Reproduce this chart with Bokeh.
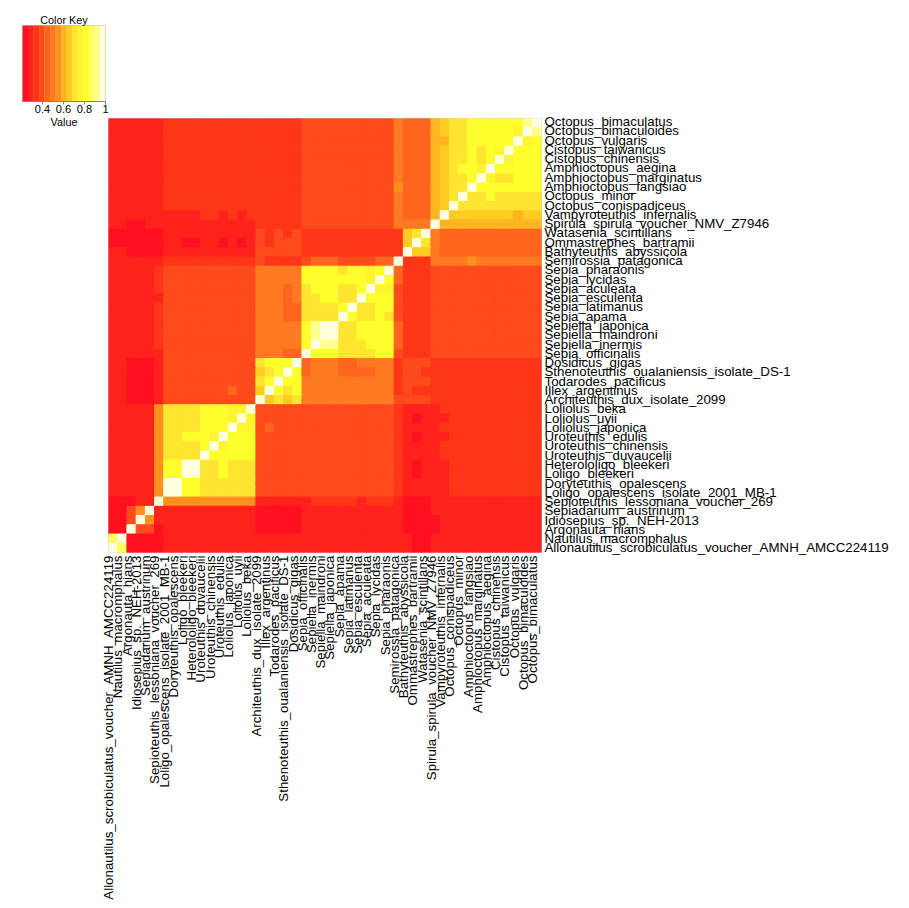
from bokeh.plotting import figure
from bokeh.layouts import column
from bokeh.models import ColumnDataSource, Range1d, LinearAxis, FixedTicker
from bokeh.embed import file_html
from bokeh.resources import INLINE
import numpy as np
import math

FONT = "Liberation Sans"

row_labels = [
    "Octopus_bimaculatus", "Octopus_bimaculoides", "Octopus_vulgaris", "Cistopus_taiwanicus",
    "Cistopus_chinensis", "Amphioctopus_aegina", "Amphioctopus_marginatus", "Amphioctopus_fangsiao",
    "Octopus_minor", "Octopus_conispadiceus", "Vampyroteuthis_infernalis",
    "Spirula_spirula_voucher_NMV_Z7946", "Watasenia_scintillans", "Ommastrephes_bartramii",
    "Bathyteuthis_abyssicola", "Semirossia_patagonica", "Sepia_pharaonis", "Sepia_lycidas",
    "Sepia_aculeata", "Sepia_esculenta", "Sepia_latimanus", "Sepia_apama", "Sepiella_japonica",
    "Sepiella_maindroni", "Sepiella_inermis", "Sepia_officinalis", "Dosidicus_gigas",
    "Sthenoteuthis_oualaniensis_isolate_DS-1", "Todarodes_pacificus", "Illex_argentinus",
    "Architeuthis_dux_isolate_2099", "Loliolus_beka", "Loliolus_uyii", "Loliolus_japonica",
    "Uroteuthis_edulis", "Uroteuthis_chinensis", "Uroteuthis_duvaucelii", "Heterololigo_bleekeri",
    "Loligo_bleekeri", "Doryteuthis_opalescens", "Loligo_opalescens_isolate_2001_MB-1",
    "Sepioteuthis_lessoniana_voucher_269", "Sepiadarium_austrinum", "Idiosepius_sp._NEH-2013",
    "Argonauta_hians", "Nautilus_macromphalus",
    "Allonautilus_scrobiculatus_voucher_AMNH_AMCC224119",
]
col_labels = row_labels[::-1]

# colour-key bands, one hex digit per band in the rows below
key_low = 0.21
key_high = 1.0
key_colors = ["#FF1020", "#FF221C", "#FF3518", "#FF4A1C", "#FF651E", "#FF7A20", "#FF9020", "#FFB420",
              "#FFCC20", "#FFE530", "#FFF52E", "#FFFF2C", "#FFFF60", "#FFFF90", "#FFFFE0"]
key_ticks = [0.4, 0.6, 0.8, 1]

# one string per row, from the left column up to the diagonal; the other half is its mirror
similarity = [
    "111111222222222222222333333333354447899bbbbbbde",
    "11111122222222222222233333333335444789" "9bbbbbae",
    "1111112222222222222223333333333544477" "99bbbbbe",
    "11111122222222222222233333333335444789" "9b9bae",
    "11111122222222222222233333333335444789" "9b9be",
    "111111222222222222222333333333354447" "89bbae",
    "11111122222222222222233333333335444789" "9be",
    "11111122222222222222233333333336444789" "9e",
    "111111222222222222222333333333354447" "89e",
    "111111222222222222222333333333354447" "8e",
    "111111" "1111" "22" "1" "2" "1" "2" "22222" "3333333333" "5" "444" "7" "e",
    "11" "00" "11" "1111111111" "22222" "3333333333" "5555" "e",
    "000000" "1111111111" "32323" "2222222222" "2" "8" "9" "e",
    "000000" "1100110101" "32333" "2222222222" "2" "8" "e",
    "110000" "1111111111" "33333" "2222222222" "2" "e",
    "111111" "2222222222" "32222" "3" "444" "3333" "44" "e",
    "111112" "3333333333" "55555" "bbbb" "9" "bb" "a" "b" "e",
    "111112" "3333333333" "55555" "bbbbbbb" "a" "e",
    "111112" "3333333333" "55545" "9" "bbb" "99" "b" "e",
    "111111" "3333333333" "55545" "99" "bb" "99" "e",
    "111112" "3333333333" "55544" "9999" "b" "e",
    "111112" "3333333333" "55544" "9999" "e",
    "111112" "3333333333" "55555" "b" "d" "e" "e",
    "111112" "3333333333" "55555" "b" "d" "e",
    "111112" "3333333333" "55555" "b" "e",
    "111111" "3333333333" "55544" "e",
    "110001" "3333333333" "9" "bbb" "e",
    "110001" "3333333333" "8" "9" "b" "e",
    "110001" "3333333333" "9" "b" "e",
    "110001" "3333333433" "8" "e",
    "110001" "3333333333" "e",
    "111116" "9999" "bbb" "aa" "e",
    "111116" "9999" "bbb" "a" "e",
    "111116" "9999" "bbb" "e",
    "111116" "99" "bbb" "a" "e",
    "111116" "9999" "b" "e",
    "111116" "9999" "e",
    "111116" "bb" "ee",
    "111116" "bb" "e",
    "111116" "ee",
    "111116" "e",
    "00011e",
    "0036e",
    "003e",
    "00e",
    "ce",
    "e",
]

n = len(row_labels)
xs, ys, colors = [], [], []
for r in range(n):
    for c in range(n):
        code = similarity[r][c] if r + c <= n - 1 else similarity[n - 1 - c][n - 1 - r]
        xs.append(c + 1)
        ys.append(n - r)
        colors.append(key_colors[int(code, 16)])

# ---------- colour key ----------
edges = np.linspace(key_low, key_high, len(key_colors) + 1)
key = figure(width=125, height=133, output_backend="svg", toolbar_location=None,
             x_range=(key_low, key_high), y_range=(0, 1), title="Color Key",
             min_border_left=22, min_border_right=20, min_border_top=25, min_border_bottom=32,
             frame_align=False)
key.frame_width = 83
key.frame_height = 76
key.quad(left=edges[:-1], right=edges[1:], bottom=0, top=1, fill_color=key_colors, line_color=key_colors, line_width=0.3)
key.title.align = "center"
key.title.text_font = FONT
key.title.text_font_size = "10.8px"
key.title.text_font_style = "normal"
key.title.text_color = "#000000"
key.title.standoff = 0
key.yaxis.visible = False
key.grid.visible = False
key.outline_line_color = "#c4bfae"
key.xaxis.ticker = key_ticks
key.xaxis.major_label_overrides = {0.4: "0.4", 0.6: "0.6", 0.8: "0.8", 1: "1"}
key.xaxis.minor_tick_line_color = None
key.xaxis.major_tick_in = 0
key.xaxis.major_tick_out = 3
key.xaxis.major_tick_line_color = "#808080"
key.xaxis.axis_line_color = "#808080"
key.xaxis.major_label_standoff = 0
key.xaxis.major_label_text_font = FONT
key.xaxis.major_label_text_font_size = "11px"
key.xaxis.major_label_text_color = "#000000"
key.xaxis.axis_label = "Value"
key.xaxis.axis_label_text_font = FONT
key.xaxis.axis_label_text_font_size = "10.8px"
key.xaxis.axis_label_text_font_style = "normal"
key.xaxis.axis_label_text_color = "#000000"
key.xaxis.axis_label_standoff = 0

# ---------- heat map ----------
src = ColumnDataSource(dict(x=xs, y=ys, color=colors))
p = figure(width=901, height=792, output_backend="svg", toolbar_location=None,
           x_range=Range1d(0.5, n + 0.5), y_range=Range1d(0.5, n + 0.5),
           x_axis_location=None, y_axis_location=None,
           min_border_left=108, min_border_right=360, min_border_top=10, min_border_bottom=348,
           margin=(-25, 0, 0, 0), frame_align=False)
p.frame_width = 433
p.frame_height = 434
p.border_fill_color = None
p.rect(x="x", y="y", width=1, height=1, source=src, fill_color="color", line_color="color", line_width=1)
p.grid.visible = False
p.outline_line_color = "#d0d0d0"

# the labels do not sit exactly on the cell centres, so each axis gets a range of its own
positions = list(range(1, n + 1))
p.extra_x_ranges["col_labels"] = Range1d(0.97, n + 0.97)
p.extra_y_ranges["row_labels"] = Range1d(0.502, n + 0.335)
bottom = LinearAxis(x_range_name="col_labels", ticker=FixedTicker(ticks=positions),
                    major_label_overrides=dict(zip(positions, col_labels)),
                    major_label_orientation=math.pi / 2)
right = LinearAxis(y_range_name="row_labels", ticker=FixedTicker(ticks=positions),
                   major_label_overrides=dict(zip(positions, row_labels[::-1])))
p.add_layout(bottom, "below")
p.add_layout(right, "right")

for ax in (bottom, right):
    ax.axis_line_color = None
    ax.major_tick_line_color = None
    ax.minor_tick_line_color = None
    ax.major_tick_out = 0
    ax.major_tick_in = 0
    ax.major_label_standoff = 3
    ax.major_label_text_font = FONT
    ax.major_label_text_font_size = "13.3px"
    ax.major_label_text_color = "#000000"

page = column(key, p, spacing=0)
open("out.html", "w").write(file_html(page, INLINE))
